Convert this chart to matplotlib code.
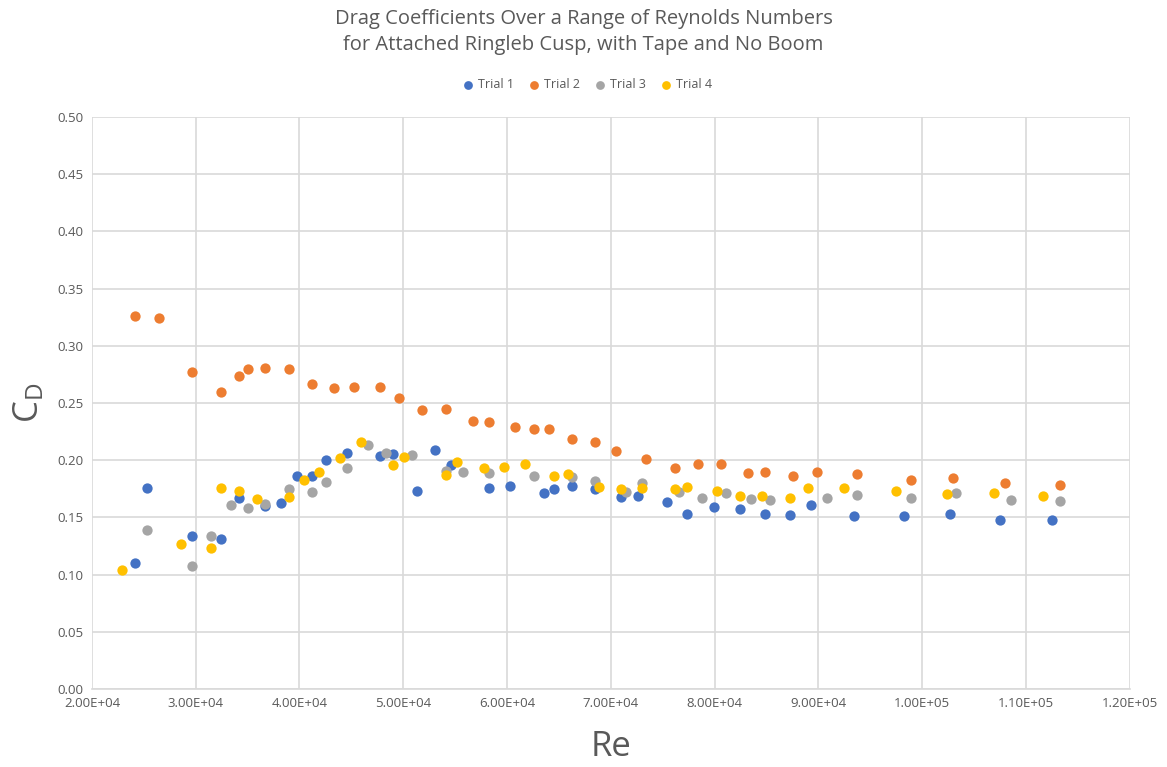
import numpy as np
import matplotlib.pyplot as plt
from matplotlib.ticker import FuncFormatter, MultipleLocator

plt.rcParams['font.family'] = ['Open Sans', 'DejaVu Sans']

# Reynolds number / drag coefficient pairs for each trial
re_t1 = [24160, 25310, 29650, 32450, 34210, 36690, 38190, 39730, 41210, 42590,
         44610, 47770, 49020, 51330, 53030, 54600, 58230, 60290, 63560, 64490,
         66260, 68440, 70980, 72620, 75380, 77300, 79940, 82410, 84890, 87270,
         89290, 93390, 98300, 102700, 107500, 112470]
cd_t1 = [0.110, 0.176, 0.134, 0.131, 0.167, 0.160, 0.163, 0.186, 0.186, 0.200,
         0.206, 0.204, 0.205, 0.173, 0.209, 0.1955, 0.1754, 0.1774, 0.1716, 0.1748,
         0.1774, 0.1746, 0.168, 0.169, 0.1635, 0.153, 0.1594, 0.1573, 0.153, 0.152,
         0.1606, 0.1515, 0.1515, 0.153, 0.148, 0.1477]

re_t2 = [24160, 26470, 29650, 32450, 34210, 35050, 36690, 38960, 41210, 43300,
         45220, 47770, 49560, 51840, 54090, 56720, 58230, 60730, 62630, 64080,
         66260, 68440, 70530, 73350, 76150, 78400, 80610, 83180, 84890, 87580,
         89890, 93750, 98920, 103000, 108010, 113240]
cd_t2 = [0.326, 0.324, 0.277, 0.260, 0.274, 0.280, 0.281, 0.280, 0.267, 0.263,
         0.264, 0.264, 0.254, 0.244, 0.245, 0.234, 0.233, 0.229, 0.2275, 0.2275,
         0.2188, 0.216, 0.2078, 0.2008, 0.193, 0.197, 0.1967, 0.1888, 0.1897, 0.186,
         0.1894, 0.1882, 0.183, 0.1844, 0.1803, 0.178]

re_t3 = [25310, 29650, 31480, 33370, 35050, 36690, 38960, 41210, 42590, 44610,
         46570, 48340, 50810, 54090, 55720, 58230, 62630, 66260, 68440, 71430,
         73000, 76570, 78750, 81100, 83540, 85350, 90790, 93750, 98920, 103220,
         108560, 113240]
cd_t3 = [0.139, 0.1075, 0.1335, 0.1606, 0.158, 0.162, 0.175, 0.172, 0.181, 0.193,
         0.213, 0.2066, 0.2048, 0.1908, 0.190, 0.1885, 0.1865, 0.1853, 0.182, 0.1725,
         0.180, 0.1725, 0.167, 0.1713, 0.166, 0.1655, 0.167, 0.1696, 0.167, 0.1713,
         0.165, 0.1643]

re_t4 = [22910, 28620, 31480, 32450, 34210, 35910, 38960, 40440, 41890, 43910,
         45930, 49020, 50110, 54090, 55180, 57810, 59740, 61700, 64490, 65840,
         68890, 70980, 73000, 76150, 77300, 80190, 82410, 84560, 87270, 88960,
         92500, 97470, 102390, 106880, 111690]
cd_t4 = [0.104, 0.1265, 0.123, 0.176, 0.173, 0.166, 0.1676, 0.1824, 0.190, 0.202,
         0.216, 0.196, 0.2025, 0.1868, 0.198, 0.193, 0.1943, 0.197, 0.186, 0.188,
         0.1768, 0.1748, 0.1754, 0.1748, 0.1768, 0.1733, 0.169, 0.169, 0.167, 0.1754,
         0.1754, 0.1733, 0.1705, 0.1713, 0.169]

trials = ['Trial 1', 'Trial 2', 'Trial 3', 'Trial 4']
colors = ['#4472C4', '#ED7D31', '#A5A5A5', '#FFC000']

fig = plt.figure(figsize=(11.67, 7.67), dpi=100)
ax = fig.add_axes([0.0788, 0.1017, 0.8892, 0.7458])

for x, y, name, c in zip([re_t1, re_t2, re_t3, re_t4], [cd_t1, cd_t2, cd_t3, cd_t4], trials, colors):
    ax.scatter(x, y, s=55, color=c, label=name, zorder=3, linewidths=0)

ax.set_xlim(20000, 120000)
ax.set_ylim(0, 0.5)
ax.xaxis.set_major_locator(MultipleLocator(10000))
ax.yaxis.set_major_locator(MultipleLocator(0.05))
ax.xaxis.set_major_formatter(FuncFormatter(lambda v, p: f'{v:.2E}'))
ax.yaxis.set_major_formatter(FuncFormatter(lambda v, p: f'{v:.2f}'))
ax.grid(True, color='#D9D9D9', linewidth=1.2, zorder=0)
ax.set_axisbelow(True)
for side in ['top', 'right', 'left']:
    ax.spines[side].set_visible(False)
ax.spines['bottom'].set_color('#D9D9D9')
ax.spines['bottom'].set_linewidth(1.2)
ax.tick_params(length=0, labelsize=9.5, labelcolor='#595959', pad=6)

ax.set_xlabel('Re', fontsize=25, color='#595959', labelpad=14)
ax.set_ylabel(r'$\mathregular{C_D}$', fontsize=25, color='#595959', labelpad=8)

fig.text(0.5, 0.988, 'Drag Coefficients Over a Range of Reynolds Numbers\nfor Attached Ringleb Cusp, with Tape and No Boom',
         ha='center', va='top', fontsize=14.5, color='#595959', linespacing=1.4)

fig.legend(loc='center', bbox_to_anchor=(0.5, 0.890), ncol=4, frameon=False,
           fontsize=9, labelcolor='#595959', handletextpad=-0.2, columnspacing=0.6,
           markerscale=0.85)

fig.savefig('out.png', dpi=100)
